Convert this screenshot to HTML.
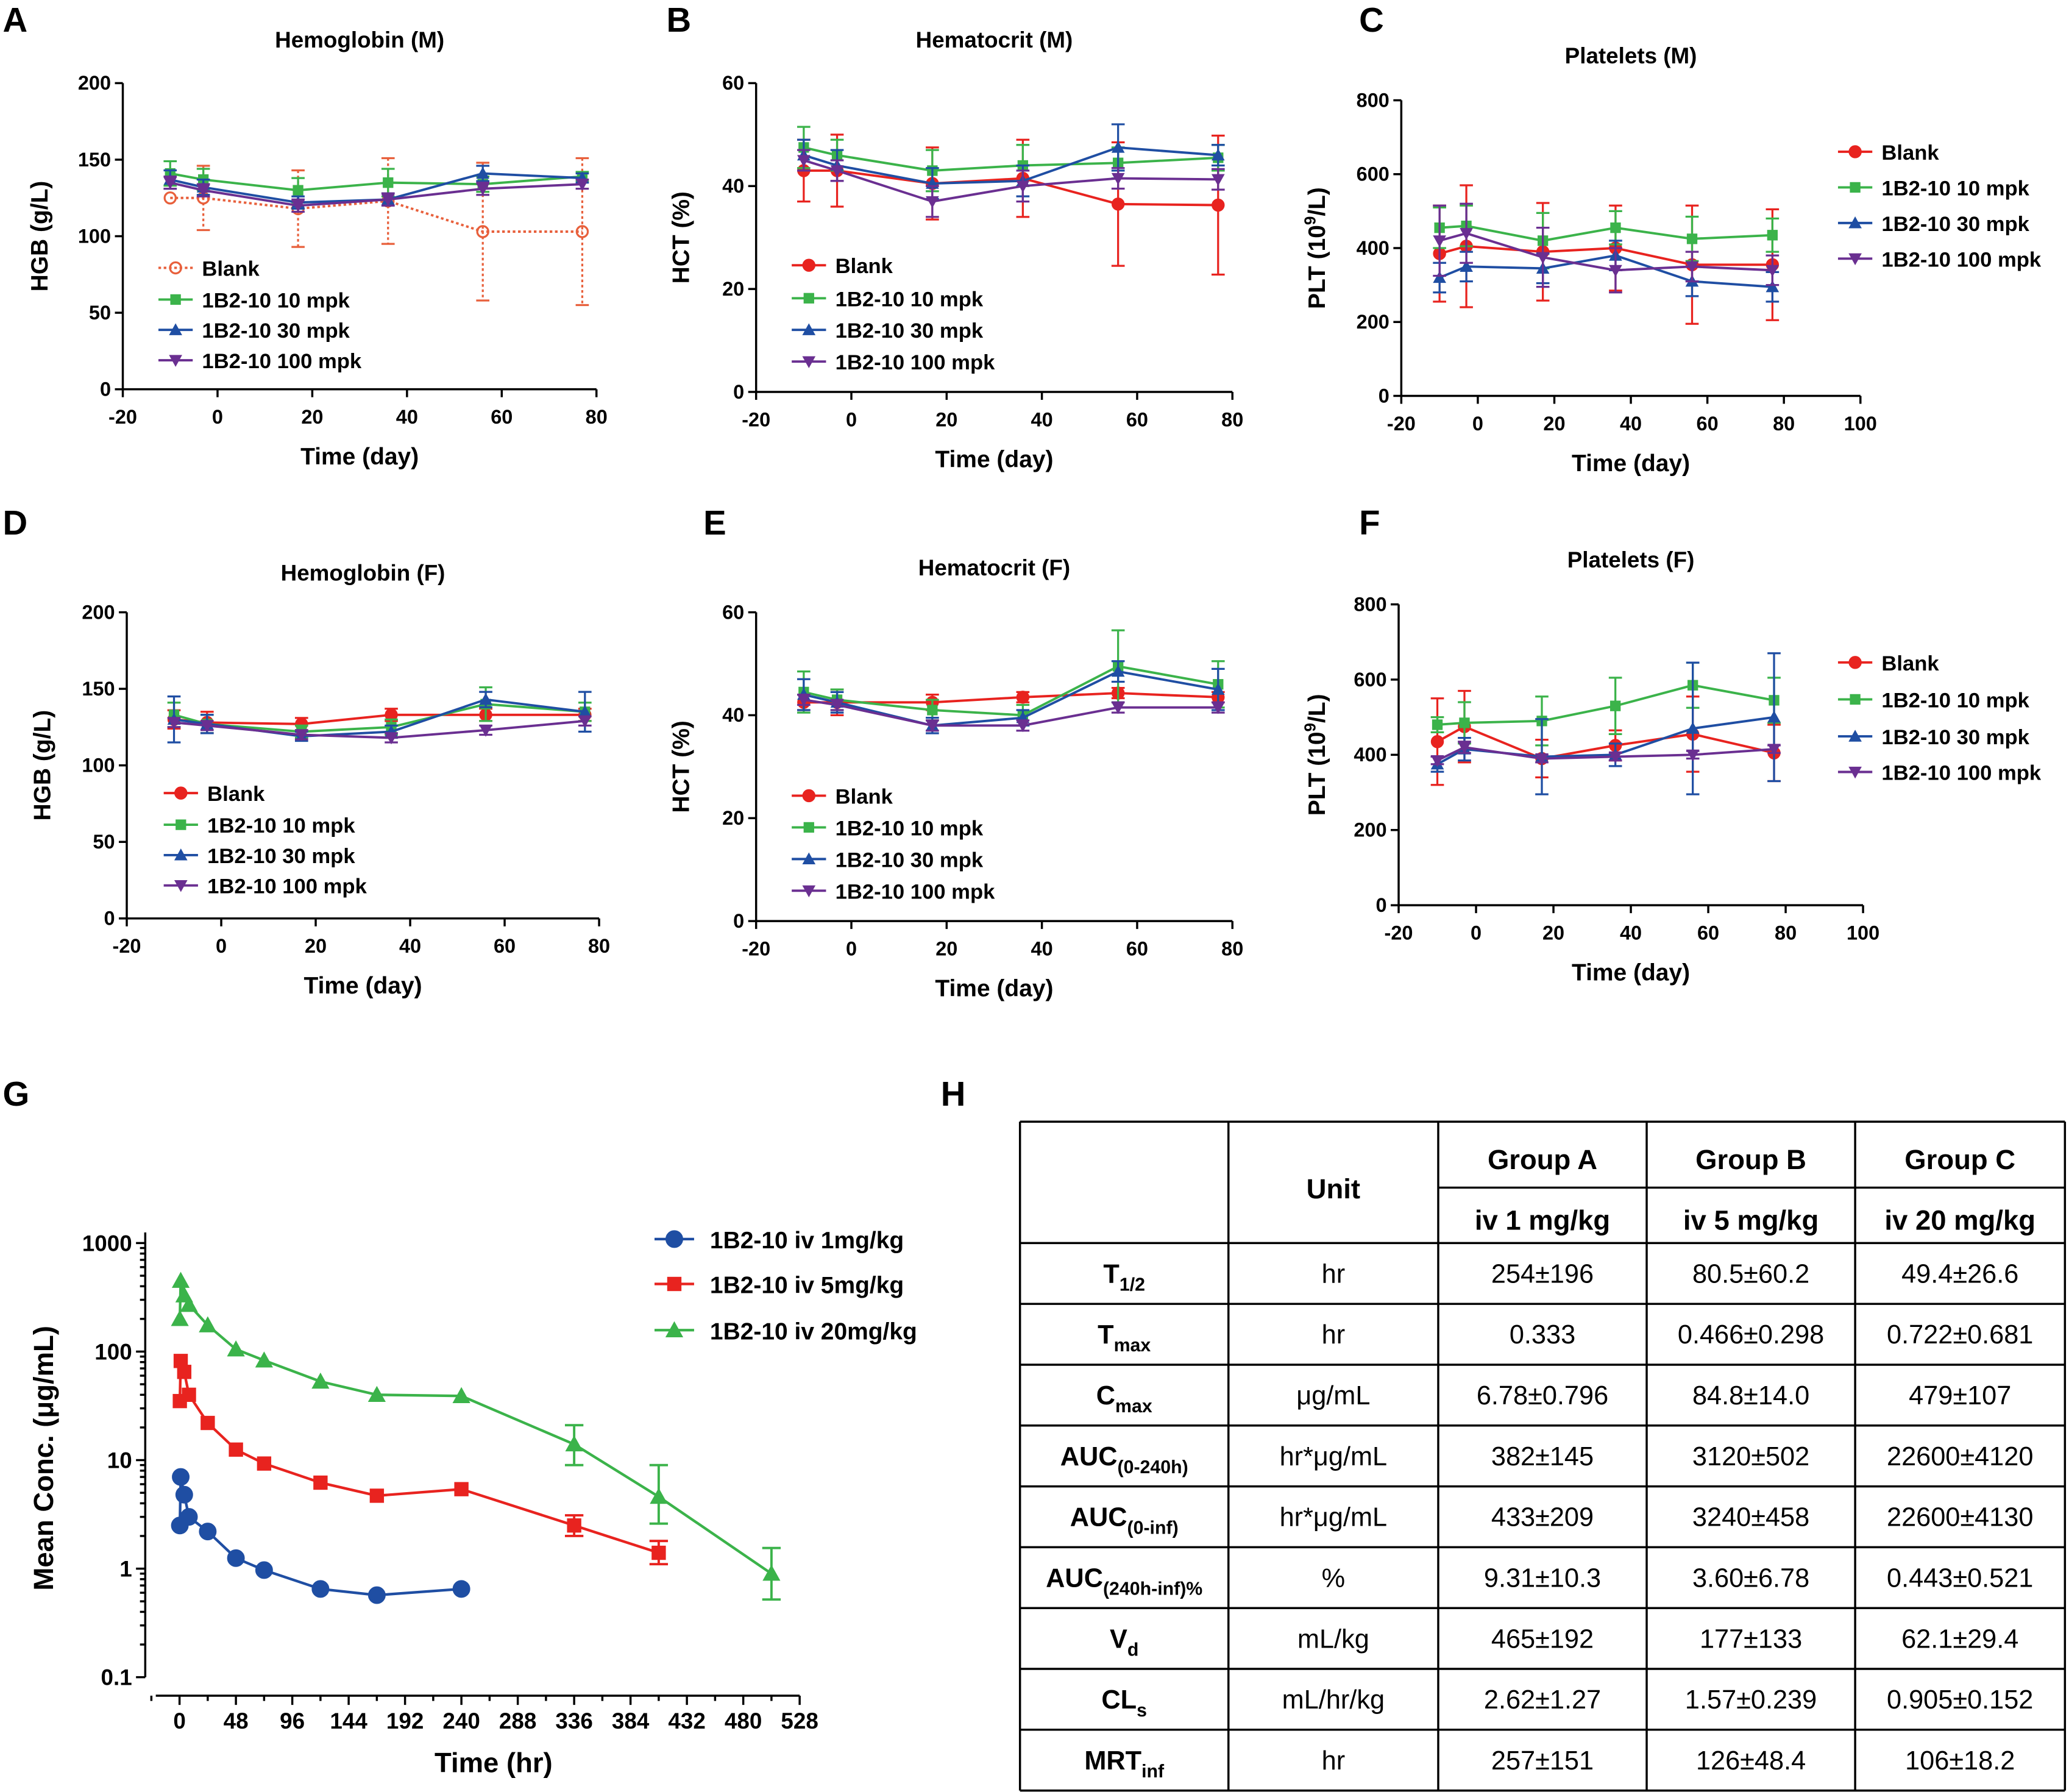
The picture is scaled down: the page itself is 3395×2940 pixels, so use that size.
<!DOCTYPE html>
<html><head><meta charset="utf-8">
<style>
html,body{margin:0;padding:0;background:#fff;}
svg{display:block;font-family:"Liberation Sans",Arial,sans-serif;}
</style></head>
<body>
<svg id="fig" width="3395" height="2940" viewBox="0 0 1568 1358" xmlns="http://www.w3.org/2000/svg"></svg>
<script>
// ---------- data ----------
const daysM = [-10,-3,17,36,56,77];
const hgbM_blank = [125,125,118,123,103,103];
const hgbM_blank_sd = [0,21,25,28,45,48];
const hgbM_10 = [141,137,130,135,134,139];
const hgbM_10_sd = [8,7,8,9,5,3];
const hgbM_30 = [137,132,122,124,141,138];
const hgbM_30_sd = [6,5,4,4,5,3];
const hgbM_100 = [135,130,120,124,131,134];
const hgbM_100_sd = [4,4,4,4,4,3];

const hctM_blank = [43,43,40.5,41.5,36.5,36.3];
const hctM_blank_sd = [6,7,7,7.5,12,13.5];
const hctM_10 = [47.5,46,43,44,44.5,45.5];
const hctM_10_sd = [4,3,4,4,3,2.5];
const hctM_30 = [46,44,40.5,41,47.5,46];
const hctM_30_sd = [3,3,3,3,4.5,2];
const hctM_100 = [45,43,37,40,41.5,41.3];
const hctM_100_sd = [2,2,3,3,2,2];

const pltM_blank = [385,405,390,400,355,355];
const pltM_blank_sd = [130,165,132,115,160,150];
const pltM_10 = [455,460,420,455,425,435];
const pltM_10_sd = [55,55,75,45,60,45];
const pltM_30 = [320,350,345,380,310,295];
const pltM_30_sd = [40,40,40,40,40,40];
const pltM_100 = [420,440,375,340,350,340];
const pltM_100_sd = [95,80,80,60,40,40];

const hgbF_blank = [130,128,127,133,133,133];
const hgbF_blank_sd = [6,7,4,4,4,4];
const hgbF_10 = [133,127,122,125,140,135];
const hgbF_10_sd = [8,6,4,5,11,6];
const hgbF_30 = [130,127,119,122,143,135];
const hgbF_30_sd = [15,6,3,4,5,13];
const hgbF_100 = [128,126,120,118,123,129];
const hgbF_100_sd = [3,3,3,3,3,3];

const hctF_blank = [42.5,42.5,42.5,43.5,44.3,43.5];
const hctF_blank_sd = [1.5,2.5,1.5,1,1,1];
const hctF_10 = [44.5,43,41,40,49.5,46];
const hctF_10_sd = [4,2,2,2,7,4.5];
const hctF_30 = [44,42.5,38,39.5,48.5,45];
const hctF_30_sd = [3,2,1.5,1.5,2,4];
const hctF_100 = [43,42,38,38,41.5,41.5];
const hctF_100_sd = [1,1,1,1,1,1];

const pltF_blank = [435,475,390,425,455,405];
const pltF_blank_sd = [115,95,50,40,100,75];
const pltF_10 = [480,485,490,530,585,545];
const pltF_10_sd = [20,55,65,75,60,60];
const pltF_30 = [375,415,395,400,470,500];
const pltF_30_sd = [20,30,100,30,175,170];
const pltF_100 = [385,420,390,395,400,415];
const pltF_100_sd = [10,15,10,10,10,10];

const pkTimes = [0.25,1,4,8,24,48,72,120,168,240,336,408,504];
const pk1 = [2.5,7,4.8,3,2.2,1.25,0.97,0.65,0.57,0.65];
const pk5 = [35,82,65,40,22,12.5,9.3,6.2,4.7,5.4,2.5,1.4];
const pk5_hi = [null,null,null,null,null,null,null,null,null,null,3.1,1.8];
const pk5_lo = [null,null,null,null,null,null,null,null,null,null,2.0,1.1];
const pk20 = [200,450,330,270,175,105,83,53,40,39,14,4.6,0.9];
const pk20_hi = [null,null,null,null,null,null,null,null,null,null,21,9,1.55];
const pk20_lo = [null,null,null,null,null,null,null,null,null,null,9,2.6,0.52];
const pkXTicks = [0,48,96,144,192,240,288,336,384,432,480,528];
const pkYTicks = [0.1,1,10,100,1000];

const legendLabels = ["Blank","1B2-10 10 mpk","1B2-10 30 mpk","1B2-10 100 mpk"];
const pkLegend = ["1B2-10 iv 1mg/kg","1B2-10 iv 5mg/kg","1B2-10 iv 20mg/kg"];

const tableHeader = ["Group A","Group B","Group C"];
const tableDose = ["iv 1 mg/kg","iv 5 mg/kg","iv 20 mg/kg"];
const tableRows = [
 [["T","1/2"],"hr","254±196","80.5±60.2","49.4±26.6"],
 [["T","max"],"hr","0.333","0.466±0.298","0.722±0.681"],
 [["C","max"],"μg/mL","6.78±0.796","84.8±14.0","479±107"],
 [["AUC","(0-240h)"],"hr*μg/mL","382±145","3120±502","22600±4120"],
 [["AUC","(0-inf)"],"hr*μg/mL","433±209","3240±458","22600±4130"],
 [["AUC","(240h-inf)%"],"%","9.31±10.3","3.60±6.78","0.443±0.521"],
 [["V","d"],"mL/kg","465±192","177±133","62.1±29.4"],
 [["CL","s"],"mL/hr/kg","2.62±1.27","1.57±0.239","0.905±0.152"],
 [["MRT","inf"],"hr","257±151","126±48.4","106±18.2"]
];

// ---------- helpers ----------
const NS="http://www.w3.org/2000/svg";
const svg=document.getElementById('fig');
function el(tag,attrs,parent,text){const e=document.createElementNS(NS,tag);for(const k in attrs)e.setAttribute(k,attrs[k]);if(text!==undefined)e.textContent=text;(parent||svg).appendChild(e);return e;}
function lin(d0,d1,r0,r1){return v=>r0+(v-d0)/(d1-d0)*(r1-r0);}
const COL=["#e8231f","#3bb34a","#1f4ea3","#6a2f91"];
function marker(g,shape,x,y,c,open){
  let m;
  if(shape==="circle") m=el('circle',{cx:x,cy:y,r:4.2,fill:open?'none':c,stroke:c,'stroke-width':1.5},g);
  else if(shape==="square") m=el('rect',{x:x-4,y:y-4,width:8,height:8,fill:c},g);
  else if(shape==="up") m=el('polygon',{points:`${x},${y-5} ${x-5},${y+4} ${x+5},${y+4}`,fill:c},g);
  else m=el('polygon',{points:`${x},${y+5} ${x-5},${y-4} ${x+5},${y-4}`,fill:c},g);
  
  
  return m;
}
const SHAPES=["circle","square","up","down"];

function panel(cfg){
  const g=el('g',{},svg);
  
  
  const sx=lin(cfg.xmin,cfg.xmax,cfg.x0,cfg.x1), sy=lin(0,cfg.ymax,cfg.y0,cfg.y1);
  const ax=el('g',{stroke:'#000','stroke-width':1.6},g);
  
  
  el('line',{x1:cfg.x0,y1:cfg.y0,x2:cfg.x0,y2:cfg.y1},ax);
  el('line',{x1:cfg.x0,y1:cfg.y0,x2:cfg.x1,y2:cfg.y0},ax);
  for(const t of cfg.yticks){const y=sy(t);el('line',{x1:cfg.x0-6,y1:y,x2:cfg.x0,y2:y},ax);
    const tl=el('text',{x:cfg.x0-9,y:y+5,'text-anchor':'end','font-size':15,'font-weight':'bold'},g,String(t));
    }
  for(const t of cfg.xticks){const x=sx(t);el('line',{x1:x,y1:cfg.y0,x2:x,y2:cfg.y0+6},ax);
    const tl=el('text',{x:x,y:cfg.y0+26,'text-anchor':'middle','font-size':15,'font-weight':'bold'},g,String(t));
    }
  const ti=el('text',{x:(cfg.x0+cfg.x1)/2,y:cfg.ty,'text-anchor':'middle','font-size':17,'font-weight':'bold'},g,cfg.title);
  
  const xt=el('text',{x:(cfg.x0+cfg.x1)/2,y:cfg.y0+57,'text-anchor':'middle','font-size':18,'font-weight':'bold'},g,'Time (day)');
  
  const yc=(cfg.y0+cfg.y1)/2;
  const yt=el('text',{x:cfg.ytx,y:yc,'text-anchor':'middle','font-size':18,'font-weight':'bold',transform:`rotate(-90 ${cfg.ytx} ${yc})`},g);
  
  if(cfg.plt){yt.textContent='PLT (10';el('tspan',{dy:-7,'font-size':12},yt,'9');el('tspan',{dy:7},yt,'/L)');}
  else yt.textContent=cfg.ytitle;
  const lt=el('text',{x:cfg.lx,y:cfg.ly,'font-size':26,'font-weight':'bold'},g,cfg.letter);
  
  // series
  cfg.series.forEach((s,i)=>{
    const c=(i===0&&cfg.openBlank)?"#e8603c":COL[i];
    const sg=el('g',{},g);
    
    
    const dash=(i===0&&cfg.openBlank)?'2,2':'';
    s.vals.forEach((v,j)=>{const x=sx(cfg.days[j]);const sd=s.sd[j];
      if(sd>0){const y1=sy(v+sd),y2=sy(Math.max(0,v-sd));
        el('line',{x1:x,y1:y1,x2:x,y2:y2,stroke:c,'stroke-width':1.5,'stroke-dasharray':dash},sg);
        el('line',{x1:x-5,y1:y1,x2:x+5,y2:y1,stroke:c,'stroke-width':1.5},sg);
        el('line',{x1:x-5,y1:y2,x2:x+5,y2:y2,stroke:c,'stroke-width':1.5},sg);}
    });
    el('polyline',{points:s.vals.map((v,j)=>sx(cfg.days[j])+','+sy(v)).join(' '),fill:'none',stroke:c,'stroke-width':1.8,'stroke-dasharray':dash},sg);
    s.vals.forEach((v,j)=>marker(sg,SHAPES[i],sx(cfg.days[j]),sy(v),c,i===0&&cfg.openBlank));
    // legend
    const lg=el('g',{},g);
    
    
    const ly=cfg.legY[i];
    el('line',{x1:cfg.legX,y1:ly,x2:cfg.legX+26,y2:ly,stroke:c,'stroke-width':1.8,'stroke-dasharray':dash},lg);
    marker(lg,SHAPES[i],cfg.legX+13,ly,c,i===0&&cfg.openBlank);
    el('text',{x:cfg.legX+33,y:ly+6,'font-size':16,'font-weight':'bold'},lg,legendLabels[i]);
  });
}
const dx=[-20,0,20,40,60,80], dxP=[-20,0,20,40,60,80,100];
panel({name:'panel-a-hemoglobin-m',letter:'A',lx:2,ly:24,title:'Hemoglobin (M)',ty:36,x0:93,x1:452,y0:295,y1:63,xmin:-20,xmax:80,ymax:200,
  xticks:dx,yticks:[0,50,100,150,200],ytx:36,ytitle:'HGB (g/L)',days:daysM,openBlank:true,legX:120,legY:[203,227,250,273],
  series:[{vals:hgbM_blank,sd:hgbM_blank_sd},{vals:hgbM_10,sd:hgbM_10_sd},{vals:hgbM_30,sd:hgbM_30_sd},{vals:hgbM_100,sd:hgbM_100_sd}]});
panel({name:'panel-b-hematocrit-m',letter:'B',lx:505,ly:24,title:'Hematocrit (M)',ty:36,x0:573,x1:934,y0:297,y1:63,xmin:-20,xmax:80,ymax:60,
  xticks:dx,yticks:[0,20,40,60],ytx:522,ytitle:'HCT (%)',days:daysM,legX:600,legY:[201,226,250,274],
  series:[{vals:hctM_blank,sd:hctM_blank_sd},{vals:hctM_10,sd:hctM_10_sd},{vals:hctM_30,sd:hctM_30_sd},{vals:hctM_100,sd:hctM_100_sd}]});
panel({name:'panel-c-platelets-m',letter:'C',lx:1030,ly:24,title:'Platelets (M)',ty:48,x0:1062,x1:1410,y0:300,y1:76,xmin:-20,xmax:100,ymax:800,
  xticks:dxP,yticks:[0,200,400,600,800],ytx:1004,plt:true,days:daysM,legX:1393,legY:[115,142,169,196],
  series:[{vals:pltM_blank,sd:pltM_blank_sd},{vals:pltM_10,sd:pltM_10_sd},{vals:pltM_30,sd:pltM_30_sd},{vals:pltM_100,sd:pltM_100_sd}]});
panel({name:'panel-d-hemoglobin-f',letter:'D',lx:2,ly:405,title:'Hemoglobin (F)',ty:440,x0:96,x1:454,y0:696,y1:464,xmin:-20,xmax:80,ymax:200,
  xticks:dx,yticks:[0,50,100,150,200],ytx:38,ytitle:'HGB (g/L)',days:daysM,legX:124,legY:[601,625,648,671],
  series:[{vals:hgbF_blank,sd:hgbF_blank_sd},{vals:hgbF_10,sd:hgbF_10_sd},{vals:hgbF_30,sd:hgbF_30_sd},{vals:hgbF_100,sd:hgbF_100_sd}]});
panel({name:'panel-e-hematocrit-f',letter:'E',lx:533,ly:405,title:'Hematocrit (F)',ty:436,x0:573,x1:934,y0:698,y1:464,xmin:-20,xmax:80,ymax:60,
  xticks:dx,yticks:[0,20,40,60],ytx:522,ytitle:'HCT (%)',days:daysM,legX:600,legY:[603,627,651,675],
  series:[{vals:hctF_blank,sd:hctF_blank_sd},{vals:hctF_10,sd:hctF_10_sd},{vals:hctF_30,sd:hctF_30_sd},{vals:hctF_100,sd:hctF_100_sd}]});
panel({name:'panel-f-platelets-f',letter:'F',lx:1030,ly:405,title:'Platelets (F)',ty:430,x0:1060,x1:1412,y0:686,y1:458,xmin:-20,xmax:100,ymax:800,
  xticks:dxP,yticks:[0,200,400,600,800],ytx:1004,plt:true,days:daysM,legX:1393,legY:[502,530,558,585],
  series:[{vals:pltF_blank,sd:pltF_blank_sd},{vals:pltF_10,sd:pltF_10_sd},{vals:pltF_30,sd:pltF_30_sd},{vals:pltF_100,sd:pltF_100_sd}]});

// ---------- panel G ----------
(function(){
  const g=el('g',{},svg);
  
  
  const X0=110,YB=1285;
  const sx=lin(0,528,136,606);
  const sy=v=>lin(-1,3,1271,942)(Math.log10(v));
  const ax=el('g',{stroke:'#000','stroke-width':1.6},g);
  
  
  el('line',{x1:X0,y1:sy(1000)-8,x2:X0,y2:1271},ax);
  el('line',{x1:118,y1:YB,x2:606,y2:YB},ax);
  for(const t of pkYTicks){const y=sy(t);el('line',{x1:X0-7,y1:y,x2:X0,y2:y},ax);
    const tl=el('text',{x:X0-10,y:y+6,'text-anchor':'end','font-size':17,'font-weight':'bold'},g,String(t));
    
    if(t<1000)for(let k=2;k<10;k++){const yy=sy(t*k);el('line',{x1:X0-4,y1:yy,x2:X0,y2:yy},ax);}}
  for(const t of pkXTicks){const x=sx(t);el('line',{x1:x,y1:YB,x2:x,y2:YB+7},ax);
    el('line',{x1:sx(t-24),y1:YB,x2:sx(t-24),y2:YB+4},ax);
    const tl=el('text',{x:x,y:YB+25,'text-anchor':'middle','font-size':17,'font-weight':'bold'},g,String(t));
    }
  const xt=el('text',{x:374,y:1343,'text-anchor':'middle','font-size':21,'font-weight':'bold'},g,'Time (hr)');
  
  const yt=el('text',{x:40,y:1105,'text-anchor':'middle','font-size':21,'font-weight':'bold',transform:'rotate(-90 40 1105)'},g,'Mean Conc. (μg/mL)');
  
  const lt=el('text',{x:2,y:838,'font-size':26,'font-weight':'bold'},g,'G');
  
  const ser=[{v:pk1,c:COL[2],s:'circle',hi:[],lo:[]},{v:pk5,c:COL[0],s:'square',hi:pk5_hi,lo:pk5_lo},{v:pk20,c:COL[1],s:'up',hi:pk20_hi,lo:pk20_lo}];
  const legY=[939,973,1008];
  ser.forEach((S,i)=>{
    const sg=el('g',{},g);
    
    
    S.v.forEach((v,j)=>{if(S.hi[j]){const x=sx(pkTimes[j]);const y1=sy(S.hi[j]),y2=sy(S.lo[j]);
      el('line',{x1:x,y1:y1,x2:x,y2:y2,stroke:S.c,'stroke-width':1.8},sg);
      el('line',{x1:x-7,y1:y1,x2:x+7,y2:y1,stroke:S.c,'stroke-width':1.8},sg);
      el('line',{x1:x-7,y1:y2,x2:x+7,y2:y2,stroke:S.c,'stroke-width':1.8},sg);}});
    el('polyline',{points:S.v.map((v,j)=>sx(pkTimes[j])+','+sy(v)).join(' '),fill:'none',stroke:S.c,'stroke-width':2},sg);
    S.v.forEach((v,j)=>{const m=marker(sg,S.s,sx(pkTimes[j]),sy(v),S.c,false);m.setAttribute('transform',`translate(${sx(pkTimes[j])} ${sy(v)}) scale(1.35) translate(${-sx(pkTimes[j])} ${-sy(v)})`);});
    const lg=el('g',{},g);
    
    
    el('line',{x1:496,y1:legY[i],x2:526,y2:legY[i],stroke:S.c,'stroke-width':2},lg);
    const m=marker(lg,S.s,511,legY[i],S.c,false);m.setAttribute('transform',`translate(511 ${legY[i]}) scale(1.35) translate(-511 ${-legY[i]})`);
    el('text',{x:538,y:legY[i]+7,'font-size':18,'font-weight':'bold'},lg,pkLegend[i]);
  });
})();

// ---------- panel H table ----------
(function(){
  const g=el('g',{},svg);
  
  
  const lt=el('text',{x:713,y:838,'font-size':26,'font-weight':'bold'},g,'H');
  
  const cols=[773,931,1090,1248,1406,1565];
  const top=850,h1=942,rh=46.1,bot=h1+rh*tableRows.length;
  const L=el('g',{stroke:'#000','stroke-width':1.6},g);
  for(const c of cols) el('line',{x1:c,y1:top,x2:c,y2:bot},L);
  el('line',{x1:773,y1:top,x2:1565,y2:top},L);
  el('line',{x1:1090,y1:900,x2:1565,y2:900},L);
  for(let r=0;r<=tableRows.length;r++) el('line',{x1:773,y1:h1+r*rh,x2:1565,y2:h1+r*rh},L);
  const mid=i=>(cols[i]+cols[i+1])/2;
  const hu=el('text',{x:mid(1),y:908,'text-anchor':'middle','font-size':21,'font-weight':'bold'},g,'Unit');
  
  tableHeader.forEach((t,i)=>{const e=el('text',{x:mid(i+2),y:886,'text-anchor':'middle','font-size':21,'font-weight':'bold'},g,t);
    });
  tableDose.forEach((t,i)=>{const e=el('text',{x:mid(i+2),y:932,'text-anchor':'middle','font-size':21,'font-weight':'bold'},g,t);
    });
  tableRows.forEach((row,r)=>{
    const y=h1+r*rh+rh/2+7;
    const p=el('text',{x:mid(0),y:y,'text-anchor':'middle','font-size':20,'font-weight':'bold'},g);
    
    el('tspan',{},p,row[0][0]);el('tspan',{dy:6,'font-size':14},p,row[0][1]);
    for(let c=1;c<5;c++){const e=el('text',{x:mid(c),y:y,'text-anchor':'middle','font-size':20},g,row[c]);
      }
  });
})();
</script>
</body></html>
